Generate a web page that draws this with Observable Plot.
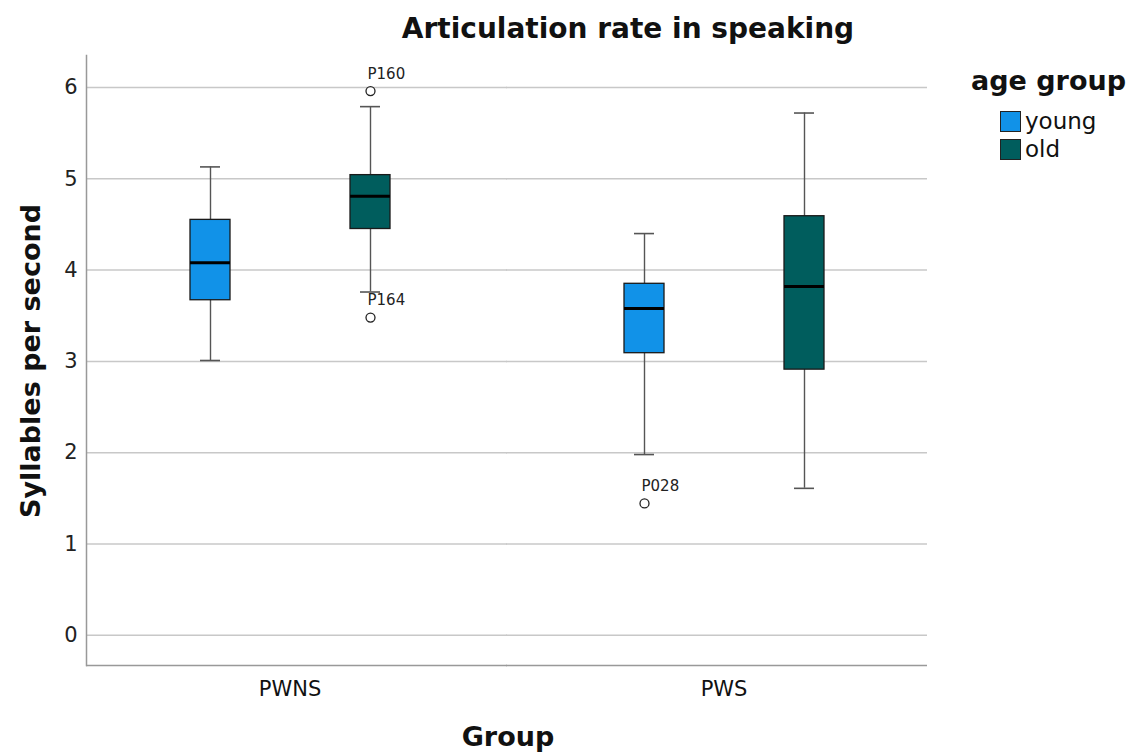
<!DOCTYPE html>
<html>
<head>
<meta charset="utf-8">
<script src="https://cdn.jsdelivr.net/npm/d3@7"></script>
<script src="https://cdn.jsdelivr.net/npm/@observablehq/plot@0.6"></script>
<style>
  html, body { margin: 0; padding: 0; background: #fff; }
  #wrap { position: relative; width: 1131px; height: 753px; font-family: "DejaVu Sans", sans-serif; color: #111; }
  #chart { position: absolute; left: 0; top: 0; }
  .title { position: absolute; top: 12px; left: 628px; transform: translateX(-50%); font-size: 28px; font-weight: bold; white-space: nowrap; }
  .ylab { position: absolute; left: 30px; top: 361px; transform: translate(-50%, -50%) rotate(-90deg); font-size: 27px; font-weight: bold; white-space: nowrap; }
  .xlab { position: absolute; top: 721px; left: 508px; transform: translateX(-50%); font-size: 27px; font-weight: bold; white-space: nowrap; }
  .legend { position: absolute; left: 971px; top: 65px; }
  .legend .lt { font-size: 27px; font-weight: bold; white-space: nowrap; margin-bottom: 11px; }
  .legend .item { display: flex; align-items: center; margin-left: 29px; height: 28px; font-size: 23px; }
  .legend .sw { width: 19px; height: 19px; border: 1px solid #222; margin-right: 4px; }
</style>
</head>
<body>
<div id="wrap">
  <div id="chart"></div>
  <div class="title">Articulation rate in speaking</div>
  <div class="ylab">Syllables per second</div>
  <div class="xlab">Group</div>
  <div class="legend" id="legend"></div>
</div>
<script>
// ---- data ----
const groups = ["PWNS", "PWS"];
const ageGroups = ["young", "old"];
const ageColors = ["#1192e8", "#005d5d"];

const boxGroup = ["PWNS", "PWNS", "PWS", "PWS"];
const boxAge = ["young", "old", "young", "old"];
const whiskerLow = [3.01, 3.76, 1.98, 1.61];
const q1 = [3.67, 4.45, 3.09, 2.91];
const median = [4.08, 4.81, 3.58, 3.82];
const q3 = [4.55, 5.04, 3.85, 4.59];
const whiskerHigh = [5.13, 5.79, 4.40, 5.72];

const outlierGroup = ["PWNS", "PWNS", "PWS"];
const outlierAge = ["old", "old", "young"];
const outlierValue = [5.96, 3.48, 1.445];
const outlierLabel = ["P160", "P164", "P028"];

const yTicks = [0, 1, 2, 3, 4, 5, 6];
const yDomain = [-0.33, 6.35];

// ---- tables built from the arrays ----
const boxes = boxGroup.map((g, i) => ({
  group: g, age: boxAge[i], lo: whiskerLow[i], q1: q1[i], med: median[i], q3: q3[i], hi: whiskerHigh[i]
}));
const outliers = outlierGroup.map((g, i) => ({
  group: g, age: outlierAge[i], value: outlierValue[i], label: outlierLabel[i]
}));
const gridLines = yTicks;
const baseLine = [yDomain[0]];

const chart = Plot.plot({
  width: 1131,
  height: 753,
  marginTop: 55,
  marginBottom: 88,
  marginLeft: 85,
  marginRight: 203,
  style: { fontFamily: "DejaVu Sans, sans-serif", color: "#222", background: "transparent" },
  fx: { domain: groups, paddingInner: 0.062, paddingOuter: 0, label: null, axis: null },
  x: { domain: ageGroups, paddingInner: 0.75, paddingOuter: 0.642, axis: null },
  y: { domain: yDomain, label: null, axis: null },
  color: { domain: ageGroups, range: ageColors },
  marks: [
    // gridlines (continuous across the gap between facets)
    Plot.ruleY(gridLines, { y: d => d, fx: () => groups[0], stroke: "#c8c8c8", strokeWidth: 1.5, insetRight: -14 }),
    Plot.ruleY(gridLines, { y: d => d, fx: () => groups[1], stroke: "#c8c8c8", strokeWidth: 1.5, insetLeft: -14 }),
    // bottom axis line
    Plot.ruleY(baseLine, { y: d => d, fx: () => groups[0], stroke: "#999", strokeWidth: 1.5, insetRight: -14 }),
    Plot.ruleY(baseLine, { y: d => d, fx: () => groups[1], stroke: "#999", strokeWidth: 1.5, insetLeft: -14 }),
    // left axis line
    Plot.frame({ anchor: "left", stroke: "#999", strokeWidth: 1.5, facetAnchor: "left" }),
    Plot.axisY(yTicks, { anchor: "left", tickSize: 0, tickPadding: 9, fontSize: 21, label: null, fill: "#222", tickFormat: d => String(d) }),
    Plot.axisFx({ anchor: "bottom", tickSize: 0, tickPadding: 16, fontSize: 21, label: null, fill: "#111" }),
    // whiskers
    Plot.ruleX(boxes, { fx: "group", x: "age", y1: "lo", y2: "hi", stroke: "#555", strokeWidth: 1.4 }),
    Plot.tickY(boxes, { fx: "group", x: "age", y: "lo", stroke: "#555", strokeWidth: 1.6, insetLeft: 10, insetRight: 10 }),
    Plot.tickY(boxes, { fx: "group", x: "age", y: "hi", stroke: "#555", strokeWidth: 1.6, insetLeft: 10, insetRight: 10 }),
    // boxes
    Plot.barY(boxes, { fx: "group", x: "age", y1: "q1", y2: "q3", fill: "age", stroke: "#1a1a1a", strokeWidth: 1.3 }),
    // medians
    Plot.tickY(boxes, { fx: "group", x: "age", y: "med", stroke: "#000", strokeWidth: 3 }),
    // outliers
    Plot.dot(outliers, { fx: "group", x: "age", y: "value", r: 4.5, stroke: "#222", fill: "#fff", strokeWidth: 1.3 }),
    Plot.text(outliers, { fx: "group", x: "age", y: "value", text: "label", textAnchor: "start", dx: -3, dy: -17, fontSize: 15, fill: "#222" })
  ]
});
document.getElementById("chart").appendChild(chart);

// legend
const legend = document.getElementById("legend");
const lt = document.createElement("div");
lt.className = "lt";
lt.textContent = "age group";
legend.appendChild(lt);
ageGroups.forEach((a, i) => {
  const item = document.createElement("div");
  item.className = "item";
  const sw = document.createElement("div");
  sw.className = "sw";
  sw.style.background = ageColors[i];
  const tx = document.createElement("span");
  tx.textContent = a;
  item.appendChild(sw);
  item.appendChild(tx);
  legend.appendChild(item);
});
</script>
</body>
</html>
